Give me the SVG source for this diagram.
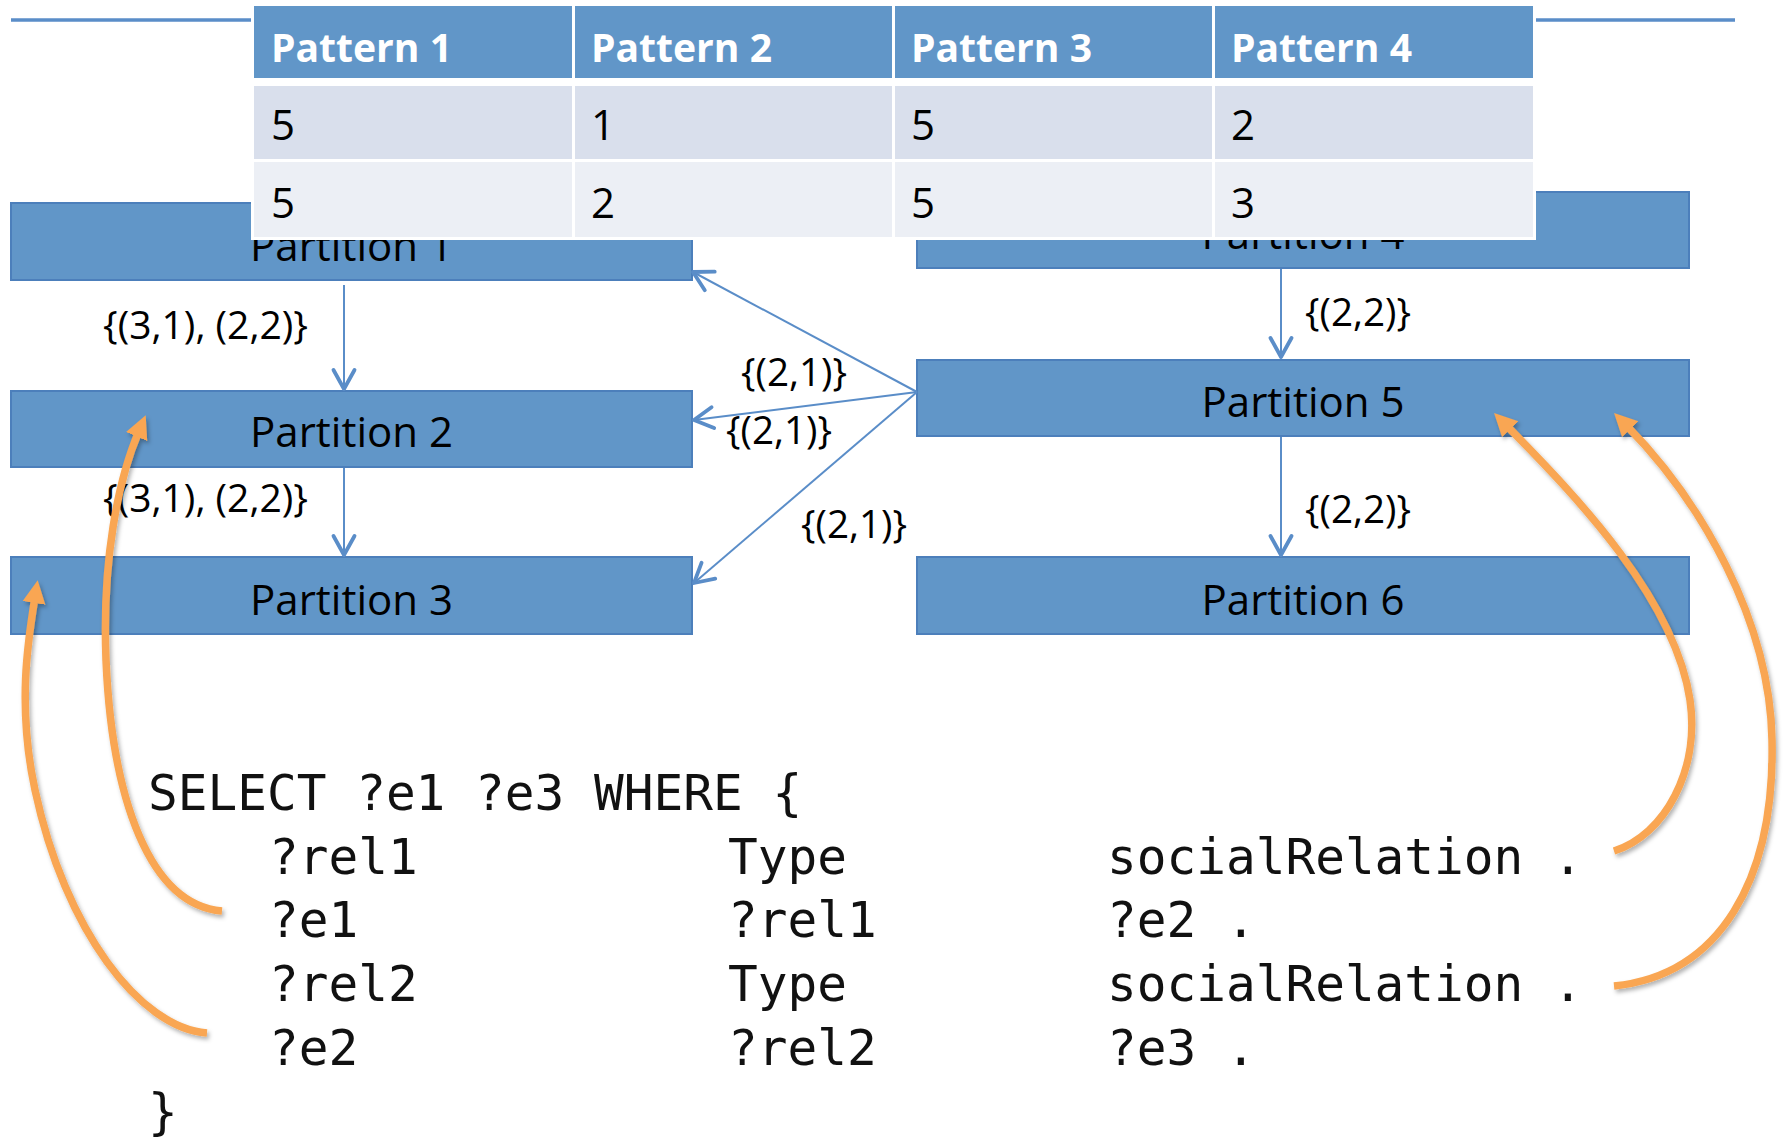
<svg xmlns="http://www.w3.org/2000/svg" width="1791" height="1141" viewBox="0 0 1791 1141">
  <defs>
    <style>
      .part { fill: #6196C8; stroke: #4C7FBB; stroke-width: 2; }
      .plabel { font-family: "Open Sans", "Liberation Sans", sans-serif; font-size: 42px; fill: #000; text-anchor: middle; }
      .hcell { fill: #6196C8; }
      .r1 { fill: #D9DFEC; }
      .r2 { fill: #ECEFF5; }
      .htext { font-family: "Open Sans", "Liberation Sans", sans-serif; font-size: 40px; font-weight: bold; fill: #fff; }
      .ctext { font-family: "Open Sans", "Liberation Sans", sans-serif; font-size: 42px; fill: #000; }
      .elabel { font-family: "Open Sans", "Liberation Sans", sans-serif; font-size: 38px; fill: #000; }
      .conn { stroke: #5A8DC8; stroke-width: 2; fill: none; marker-end: url(#vhead); }
      .rule { stroke: #5A8DC8; stroke-width: 3.5; }
      .code { font-family: "DejaVu Sans Mono", "Liberation Mono", monospace; font-size: 49.4px; fill: #111; }
      .hook { stroke: #F9A652; stroke-width: 7.5; fill: none; marker-end: url(#ohead); filter: url(#shadow); }
    </style>
    <marker id="vhead" markerUnits="userSpaceOnUse" viewBox="-24 -14 28 28" markerWidth="28" markerHeight="28" refX="0" refY="0" orient="auto">
      <path d="M-19,-10.5 L0,0 L-19,10.5" fill="none" stroke="#5A8DC8" stroke-width="3.8" stroke-linecap="round" stroke-linejoin="round"/>
    </marker>
    <marker id="ohead" markerUnits="userSpaceOnUse" viewBox="0 0 23 25" markerWidth="23" markerHeight="25" refX="6" refY="12.5" orient="auto">
      <path d="M0,1 L23,12.5 L0,24 z" fill="#F9A652"/>
    </marker>
    <filter id="shadow" x="-20%" y="-20%" width="140%" height="140%">
      <feDropShadow dx="2" dy="3" stdDeviation="2" flood-color="#000" flood-opacity="0.3"/>
    </filter>
  </defs>

  <rect width="1791" height="1141" fill="#fff"/>

  <!-- title rule on both sides of the table -->
  <line class="rule" x1="11" y1="20" x2="252" y2="20"/>
  <line class="rule" x1="1535" y1="20" x2="1735" y2="20"/>

  <!-- partitions -->
  <g id="p1">
    <rect class="part" x="11" y="203" width="681" height="77"/>
    <text class="plabel" x="351.5" y="261">Partition 1</text>
  </g>
  <g id="p2">
    <rect class="part" x="11" y="391" width="681" height="76"/>
    <text class="plabel" x="351.5" y="447">Partition 2</text>
  </g>
  <g id="p3">
    <rect class="part" x="11" y="557" width="681" height="77"/>
    <text class="plabel" x="351.5" y="615">Partition 3</text>
  </g>
  <g id="p4">
    <rect class="part" x="917" y="192" width="772" height="76"/>
    <text class="plabel" x="1303" y="249">Partition 4</text>
  </g>
  <g id="p5">
    <rect class="part" x="917" y="360" width="772" height="76"/>
    <text class="plabel" x="1303" y="417">Partition 5</text>
  </g>
  <g id="p6">
    <rect class="part" x="917" y="557" width="772" height="77"/>
    <text class="plabel" x="1303" y="615">Partition 6</text>
  </g>

  <!-- pattern table -->
  <g id="pattern-table">
    <rect x="251" y="3" width="1285" height="237" fill="#fff"/>
    <rect class="hcell" x="254" y="6" width="318" height="72"/>
    <rect class="hcell" x="575" y="6" width="317" height="72"/>
    <rect class="hcell" x="895" y="6" width="317" height="72"/>
    <rect class="hcell" x="1215" y="6" width="318" height="72"/>
    <rect class="r1" x="254" y="86" width="318" height="73"/>
    <rect class="r1" x="575" y="86" width="317" height="73"/>
    <rect class="r1" x="895" y="86" width="317" height="73"/>
    <rect class="r1" x="1215" y="86" width="318" height="73"/>
    <rect class="r2" x="254" y="162" width="318" height="75"/>
    <rect class="r2" x="575" y="162" width="317" height="75"/>
    <rect class="r2" x="895" y="162" width="317" height="75"/>
    <rect class="r2" x="1215" y="162" width="318" height="75"/>
    <text class="htext" x="271" y="62" textLength="181" lengthAdjust="spacingAndGlyphs">Pattern 1</text>
    <text class="htext" x="591" y="62" textLength="181" lengthAdjust="spacingAndGlyphs">Pattern 2</text>
    <text class="htext" x="911" y="62" textLength="181" lengthAdjust="spacingAndGlyphs">Pattern 3</text>
    <text class="htext" x="1231" y="62" textLength="181" lengthAdjust="spacingAndGlyphs">Pattern 4</text>
    <text class="ctext" x="271" y="140">5</text>
    <text class="ctext" x="591" y="140">1</text>
    <text class="ctext" x="911" y="140">5</text>
    <text class="ctext" x="1231" y="140">2</text>
    <text class="ctext" x="271" y="218">5</text>
    <text class="ctext" x="591" y="218">2</text>
    <text class="ctext" x="911" y="218">5</text>
    <text class="ctext" x="1231" y="218">3</text>
  </g>

  <!-- connectors between partitions -->
  <g id="connectors">
    <line class="conn" x1="344" y1="285" x2="344" y2="389"/>
    <line class="conn" x1="344" y1="468" x2="344" y2="555"/>
    <line class="conn" x1="1281" y1="269" x2="1281" y2="357"/>
    <line class="conn" x1="1281" y1="437" x2="1281" y2="555"/>
    <line class="conn" x1="917" y1="392" x2="693" y2="272"/>
    <line class="conn" x1="917" y1="392" x2="694" y2="420"/>
    <line class="conn" x1="917" y1="392" x2="694" y2="583"/>
  </g>

  <!-- connector labels -->
  <g id="connector-labels">
    <text class="elabel" x="103" y="339" textLength="205" lengthAdjust="spacingAndGlyphs">{(3,1), (2,2)}</text>
    <text class="elabel" x="103" y="512" textLength="205" lengthAdjust="spacingAndGlyphs">{(3,1), (2,2)}</text>
    <text class="elabel" x="741" y="386" textLength="106" lengthAdjust="spacingAndGlyphs">{(2,1)}</text>
    <text class="elabel" x="726" y="444" textLength="106" lengthAdjust="spacingAndGlyphs">{(2,1)}</text>
    <text class="elabel" x="801" y="538" textLength="106" lengthAdjust="spacingAndGlyphs">{(2,1)}</text>
    <text class="elabel" x="1305" y="326" textLength="106" lengthAdjust="spacingAndGlyphs">{(2,2)}</text>
    <text class="elabel" x="1305" y="523" textLength="106" lengthAdjust="spacingAndGlyphs">{(2,2)}</text>
  </g>

  <!-- SPARQL query -->
  <g id="query">
    <text class="code" x="148" y="810">SELECT ?e1 ?e3 WHERE {</text>
    <text class="code" x="269" y="874">?rel1</text>
    <text class="code" x="728" y="874">Type</text>
    <text class="code" x="1107" y="874">socialRelation .</text>
    <text class="code" x="269" y="937">?e1</text>
    <text class="code" x="728" y="937">?rel1</text>
    <text class="code" x="1107" y="937">?e2 .</text>
    <text class="code" x="269" y="1001">?rel2</text>
    <text class="code" x="728" y="1001">Type</text>
    <text class="code" x="1107" y="1001">socialRelation .</text>
    <text class="code" x="269" y="1065">?e2</text>
    <text class="code" x="728" y="1065">?rel2</text>
    <text class="code" x="1107" y="1065">?e3 .</text>
    <text class="code" x="148" y="1129">}</text>
  </g>

  <!-- triple pattern to partition pointers -->
  <g id="pattern-pointers">
    <path class="hook" d="M222,911 C150,905 112,800 106,660 C102,560 118,480 139,431"/>
    <path class="hook" d="M207,1033 C140,1028 65,930 35,790 C17,706 28,640 35,597"/>
    <path class="hook" d="M1614,851 C1665,835 1700,770 1690,700 C1675,600 1580,500 1506,425"/>
    <path class="hook" d="M1614,986 C1720,975 1775,880 1772,740 C1770,620 1700,500 1626,425"/>
  </g>
</svg>
